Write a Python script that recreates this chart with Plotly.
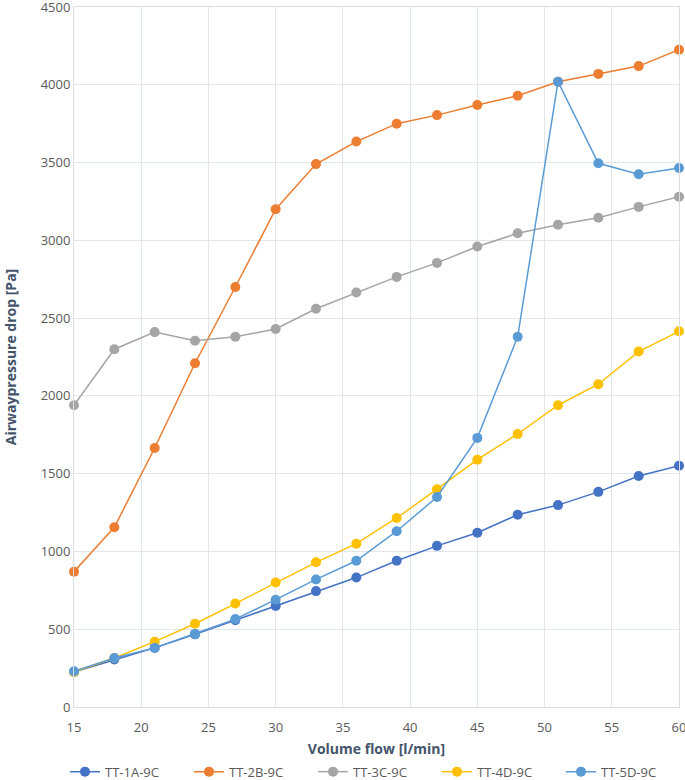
import plotly.graph_objects as go

flow = [15, 18, 21, 24, 27, 30, 33, 36, 39, 42, 45, 48, 51, 54, 57, 60]
tt_1a = [225, 305, 381, 467, 558, 650, 745, 832, 940, 1036, 1120, 1236, 1298, 1383, 1485, 1551]
tt_2b = [870, 1155, 1665, 2210, 2700, 3200, 3490, 3635, 3750, 3805, 3870, 3930, 4020, 4070, 4120, 4225]
tt_3c = [1940, 2300, 2410, 2355, 2380, 2430, 2560, 2665, 2765, 2855, 2960, 3045, 3100, 3145, 3215, 3280]
tt_4d = [225, 315, 420, 535, 665, 800, 930, 1050, 1215, 1400, 1590, 1755, 1940, 2075, 2285, 2415]
tt_5d = [230, 315, 380, 470, 565, 690, 820, 940, 1130, 1350, 1730, 2380, 4020, 3495, 3425, 3465]

series = [
    ("TT-1A-9C", tt_1a, "#4472C4"),
    ("TT-2B-9C", tt_2b, "#ED7D31"),
    ("TT-3C-9C", tt_3c, "#A5A5A5"),
    ("TT-4D-9C", tt_4d, "#FFC000"),
    ("TT-5D-9C", tt_5d, "#5B9BD5"),
]

fig = go.Figure()
for name, vals, col in series:
    fig.add_trace(go.Scatter(
        x=flow, y=vals, name=name, mode="lines+markers",
        line=dict(color=col, width=1.5),
        marker=dict(color=col, size=10),
        cliponaxis=False,
    ))

font_fam = "Open Sans, sans-serif"
fig.update_layout(
    width=685, height=780,
    margin=dict(l=74, r=6, t=7, b=73, autoexpand=False),
    paper_bgcolor="white", plot_bgcolor="white",
    font=dict(family=font_fam, size=13, color="#595959"),
    showlegend=True,
    legend=dict(orientation="h", x=-0.0149, xanchor="left", y=-0.071, yanchor="top",
                font=dict(size=13, color="#595959"), entrywidth=79, tracegroupgap=0),
    xaxis=dict(
        range=[15, 60], dtick=5, tick0=15,
        showgrid=True, gridcolor="#E1E5EC", gridwidth=1,
        showline=True, linecolor="#D9DDE4", linewidth=1, mirror=True,
        zeroline=False, ticks="", ticklabeloverflow="allow", ticklabelstandoff=8,
        title=dict(text="<b>Volume flow [l/min]</b>", font=dict(size=14, color="#44546A"), standoff=9),
        tickfont=dict(size=13, color="#595959"),
    ),
    yaxis=dict(
        range=[0, 4500], dtick=500,
        showgrid=True, gridcolor="#E1E5EC", gridwidth=1,
        showline=True, linecolor="#D9DDE4", linewidth=1, mirror=True,
        zeroline=False, ticks="", ticklabeloverflow="allow",
        title=dict(text="<b>Airwaypressure drop [Pa]</b>", font=dict(size=14, color="#44546A"), standoff=20),
        tickfont=dict(size=13, color="#595959"),
    ),
)

fig.write_html("out.html", config={"displayModeBar": False},
               post_script="document.body.style.margin='0';document.body.style.overflow='hidden';")
